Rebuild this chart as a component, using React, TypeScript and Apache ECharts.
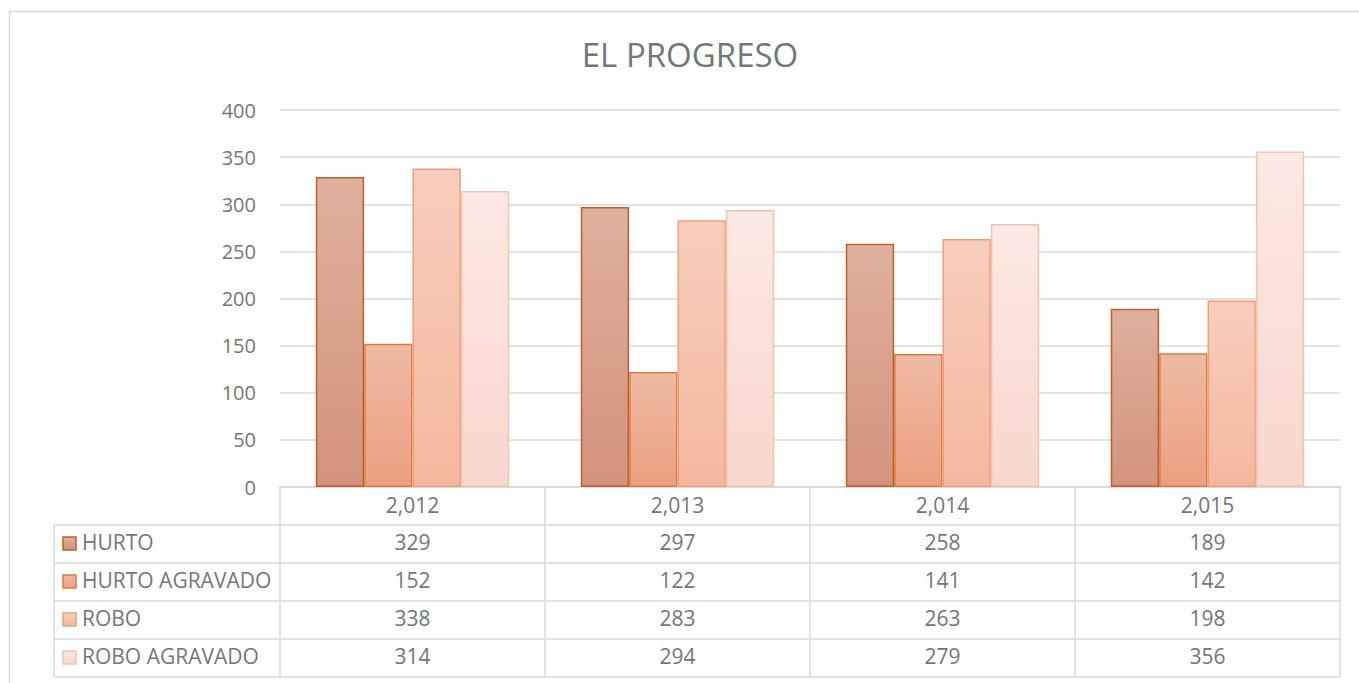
import React, { useEffect, useRef } from "react";
import * as echarts from "echarts";

const categories = ["2,012", "2,013", "2,014", "2,015"];
const seriesNames = ["HURTO", "HURTO AGRAVADO", "ROBO", "ROBO AGRAVADO"];
const hurto = [329, 297, 258, 189];
const hurtoAgravado = [152, 122, 141, 142];
const robo = [338, 283, 263, 198];
const roboAgravado = [314, 294, 279, 356];
const seriesValues = [hurto, hurtoAgravado, robo, roboAgravado];

const fillTop = ["#e0b09e", "#eebaa2", "#f8cdbd", "#fbe9e3"];
const fillBottom = ["#d3937c", "#eba080", "#f5b89f", "#f8d7cd"];
const borders = ["#b9612b", "#e07b3f", "#ee9f7a", "#f3c2ae"];

const W = 1359;
const H = 683;
const FONT = "'Open Sans', sans-serif";
const TXT = "#767676";
const LINE = "#d9d9d9";

export default function App() {
  const ref = useRef<HTMLDivElement>(null);
  useEffect(() => {
    if (!ref.current) return;
    const chart = echarts.init(ref.current, undefined, { renderer: "svg" });

    const gridLeft = 280;
    const gridRight = 1340;
    const gridTop = 110;
    const tableTop = 487;
    const rowH = 38;
    const labelLeft = 54;
    const colW = (gridRight - gridLeft) / categories.length;
    const tableBottom = tableTop + rowH * (seriesNames.length + 1);

    const grad = (i: number) =>
      new echarts.graphic.LinearGradient(0, 0, 0, 1, [
        { offset: 0, color: fillTop[i] },
        { offset: 1, color: fillBottom[i] },
      ]);

    const graphics: any[] = [];
    graphics.push({
      type: "rect",
      shape: { x: 9.5, y: 11.5, width: 1400, height: 700 },
      style: { fill: "none", stroke: LINE, lineWidth: 1.5 },
      silent: true,
    });
    for (let r = 1; r <= seriesNames.length + 1; r++) {
      const y = tableTop + r * rowH;
      graphics.push({
        type: "line",
        shape: { x1: labelLeft, y1: y, x2: gridRight, y2: y },
        style: { stroke: LINE, lineWidth: 1.5 },
        silent: true,
      });
    }
    graphics.push({
      type: "line",
      shape: { x1: labelLeft, y1: tableTop + rowH, x2: labelLeft, y2: tableBottom },
      style: { stroke: LINE, lineWidth: 1.5 },
      silent: true,
    });
    for (let c = 0; c <= categories.length; c++) {
      const x = gridLeft + c * colW;
      graphics.push({
        type: "line",
        shape: { x1: x, y1: tableTop, x2: x, y2: tableBottom },
        style: { stroke: LINE, lineWidth: 1.5 },
        silent: true,
      });
    }
    seriesNames.forEach((name, r) => {
      const cy = tableTop + (r + 1.5) * rowH;
      const ty = cy - 2;
      graphics.push({
        type: "rect",
        shape: { x: 63, y: cy - 7, width: 13, height: 13 },
        style: { fill: grad(r), stroke: borders[r], lineWidth: 1.5 },
        silent: true,
      });
      graphics.push({
        type: "text",
        x: 82,
        y: ty,
        style: {
          text: name,
          fill: TXT,
          font: `21px ${FONT}`,
          textVerticalAlign: "middle",
          verticalAlign: "middle",
        },
        silent: true,
      });
      seriesValues[r].forEach((v, c) => {
        graphics.push({
          type: "text",
          x: gridLeft + (c + 0.5) * colW,
          y: ty,
          style: {
            text: String(v),
            fill: TXT,
            font: `21px ${FONT}`,
            align: "center",
            textAlign: "center",
            verticalAlign: "middle",
            textVerticalAlign: "middle",
          },
          silent: true,
        });
      });
    });

    chart.setOption({
      animation: false,
      backgroundColor: "#ffffff",
      title: {
        text: "EL PROGRESO",
        left: 685,
        textAlign: "center",
        top: 33,
        textStyle: { fontFamily: FONT, fontSize: 33, fontWeight: "normal", color: TXT },
      },
      legend: { show: false },
      grid: {
        left: gridLeft,
        right: W - gridRight,
        top: gridTop,
        bottom: H - tableTop,
        containLabel: false,
      },
      xAxis: {
        type: "category",
        data: categories,
        axisLine: { show: true, lineStyle: { color: LINE, width: 1.5 } },
        axisTick: { show: false },
        axisLabel: {
          color: TXT,
          fontFamily: FONT,
          fontSize: 21,
          margin: 18,
          verticalAlign: "middle",
        },
      },
      yAxis: {
        type: "value",
        min: 0,
        max: 400,
        interval: 50,
        axisLine: { show: false },
        axisTick: { show: false },
        axisLabel: { color: TXT, fontFamily: FONT, fontSize: 20, margin: 24 },
        splitLine: { lineStyle: { color: LINE, width: 1.5 } },
      },
      series: seriesNames.map((name, i) => ({
        name,
        type: "bar",
        data: seriesValues[i],
        barGap: "0%",
        barCategoryGap: "27%",
        itemStyle: { color: grad(i), borderColor: borders[i], borderWidth: 1.5 },
      })),
      graphic: graphics,
    });
    return () => chart.dispose();
  }, []);
  return (
    <div
      ref={ref}
      style={{ position: "fixed", left: 0, top: 0, width: W, height: H, background: "#fff" }}
    />
  );
}
